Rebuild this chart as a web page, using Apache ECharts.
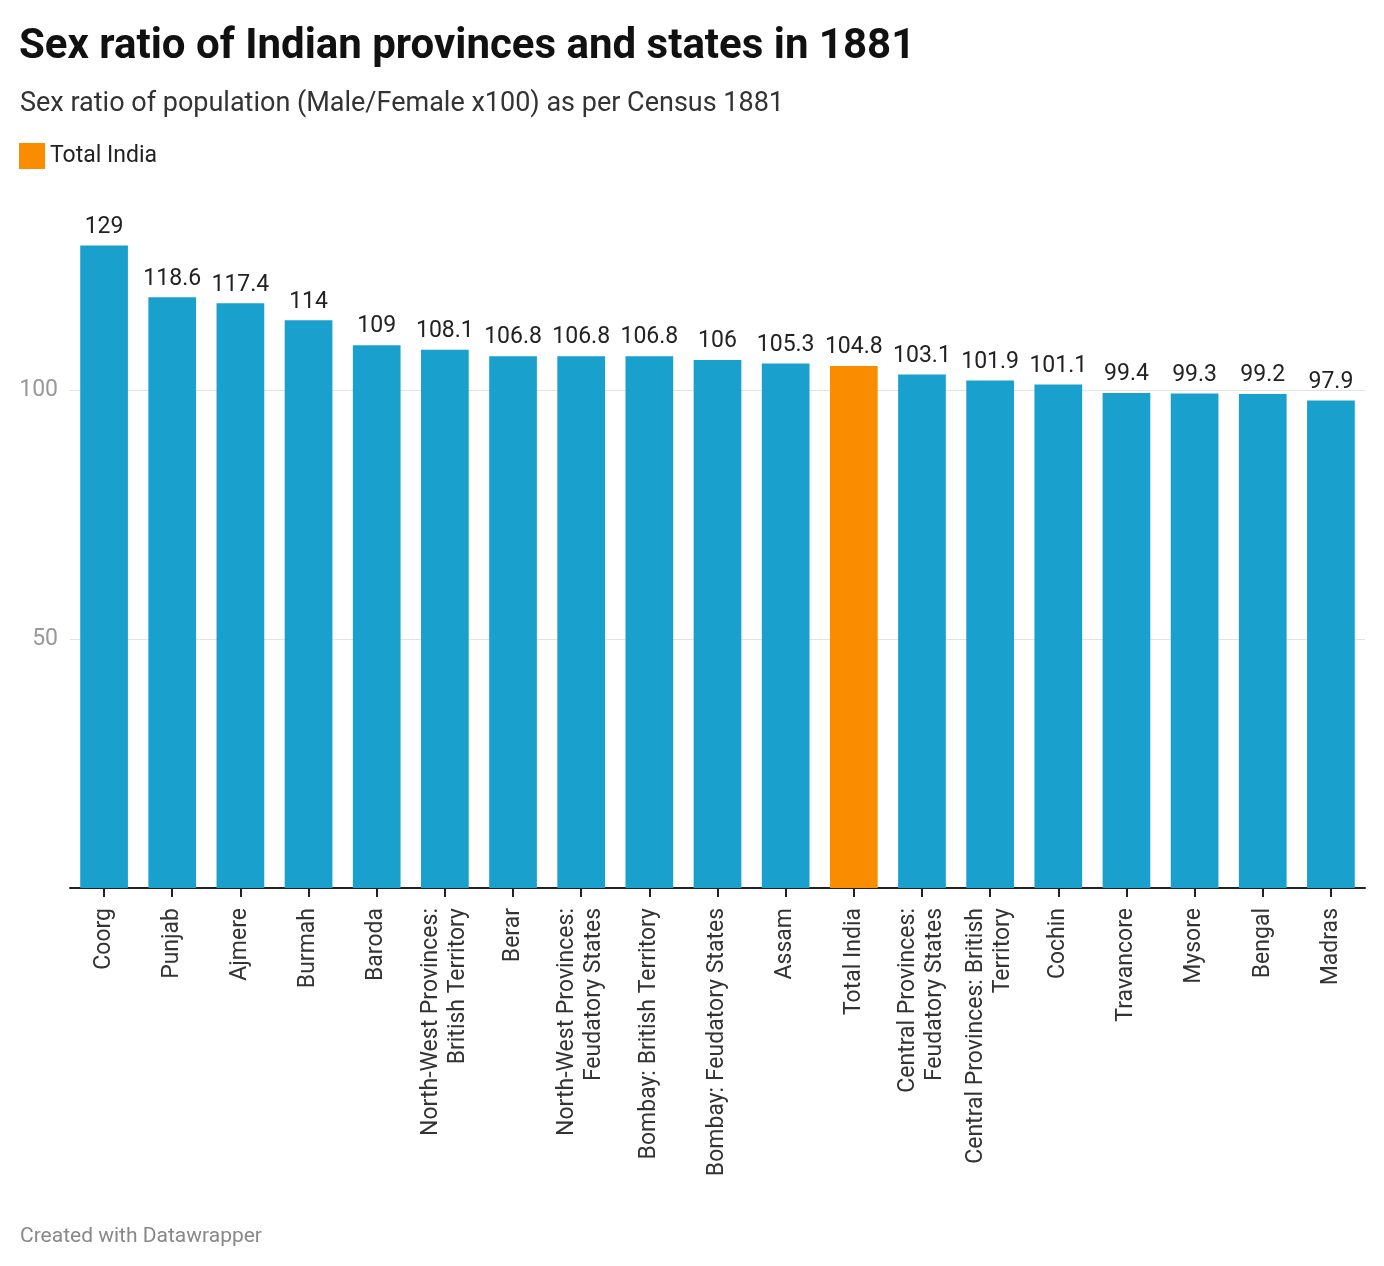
<!DOCTYPE html>
<html>
<head>
<meta charset="utf-8">
<script src="https://cdn.jsdelivr.net/npm/echarts@6/dist/echarts.min.js"></script>
<style>
  html, body { margin: 0; padding: 0; background: #fff; }
  #myChart { width: 1384px; height: 1266px; }
</style>
</head>
<body>
<div id="myChart"></div>
<script>
// provinces in the order shown
var categories = ['Coorg', 'Punjab', 'Ajmere', 'Burmah', 'Baroda',
    'North-West Provinces: British Territory', 'Berar',
    'North-West Provinces: Feudatory States', 'Bombay: British Territory',
    'Bombay: Feudatory States', 'Assam', 'Total India',
    'Central Provinces: Feudatory States', 'Central Provinces: British Territory',
    'Cochin', 'Travancore', 'Mysore', 'Bengal', 'Madras'];
var ratios = [129, 118.6, 117.4, 114, 109, 108.1, 106.8, 106.8, 106.8, 106, 105.3,
    104.8, 103.1, 101.9, 101.1, 99.4, 99.3, 99.2, 97.9];
var highlight = 'Total India';
var yTicks = [0, 50, 100];

// how the long labels wrap in the original
var wrapped = {
    'North-West Provinces: British Territory': 'North-West Provinces:\nBritish Territory',
    'North-West Provinces: Feudatory States': 'North-West Provinces:\nFeudatory States',
    'Central Provinces: Feudatory States': 'Central Provinces:\nFeudatory States',
    'Central Provinces: British Territory': 'Central Provinces: British\nTerritory'
};

var otherData = [];
var indiaData = [];
for (var i = 0; i < categories.length; i++) {
    if (categories[i] == highlight) {
        otherData.push('-');
        indiaData.push(ratios[i]);
    } else {
        otherData.push(ratios[i]);
        indiaData.push('-');
    }
}

var font = 'Roboto, "Noto Sans", sans-serif';
var valueLabel = {
    show: true,
    position: 'top',
    distance: 7,
    fontFamily: font,
    fontSize: 23,
    color: '#222'
};

var myChart = echarts.init(document.getElementById('myChart'));
var option = {
    backgroundColor: '#fff',
    animation: false,
    title: [
        {
            text: 'Sex ratio of Indian provinces and states in 1881',
            left: 19,
            top: 26,
            padding: 0,
            textStyle: { fontFamily: font, fontSize: 42, fontWeight: 'bold', color: '#111' }
        },
        {
            text: 'Sex ratio of population (Male/Female x100) as per Census 1881',
            left: 20,
            top: 91,
            padding: 0,
            textStyle: { fontFamily: font, fontSize: 27, fontWeight: 'normal', color: '#333' }
        },
        {
            text: 'Created with Datawrapper',
            left: 20,
            top: 1226,
            padding: 0,
            textStyle: { fontFamily: font, fontSize: 21, fontWeight: 'normal', color: '#888' }
        }
    ],
    legend: {
        data: [highlight],
        left: 19,
        top: 143,
        padding: 0,
        icon: 'rect',
        itemWidth: 26,
        itemHeight: 26,
        itemGap: 8,
        textStyle: { fontFamily: font, fontSize: 23, color: '#222' }
    },
    grid: {
        left: 70,
        right: 19,
        top: 240.6,
        bottom: 378,
        containLabel: false
    },
    xAxis: {
        type: 'category',
        data: categories,
        axisLine: { lineStyle: { color: '#222', width: 2 } },
        axisTick: { show: true, alignWithLabel: true, length: 9, lineStyle: { color: '#222', width: 2 } },
        axisLabel: {
            interval: 0,
            rotate: 90,
            margin: 20,
            fontFamily: font,
            fontSize: 23,
            lineHeight: 27,
            color: '#333',
            formatter: function (v) { return wrapped[v] || v; }
        }
    },
    yAxis: {
        type: 'value',
        min: yTicks[0],
        max: 130,
        interval: yTicks[1] - yTicks[0],
        axisLine: { show: false },
        axisTick: { show: false },
        axisLabel: {
            showMinLabel: false,
            showMaxLabel: false,
            margin: 12,
            fontFamily: font,
            fontSize: 23,
            color: '#999'
        },
        splitLine: {
            show: true,
            showMinLine: false,
            showMaxLine: false,
            lineStyle: { color: '#e3e3e3', width: 1 }
        }
    },
    series: [
        {
            name: 'Provinces',
            type: 'bar',
            data: otherData,
            barCategoryGap: '30%',
            barGap: '-100%',
            itemStyle: { color: '#1aa0cc' },
            label: valueLabel
        },
        {
            name: highlight,
            type: 'bar',
            data: indiaData,
            barCategoryGap: '30%',
            barGap: '-100%',
            itemStyle: { color: '#fa8c00' },
            label: valueLabel
        }
    ]
};
myChart.setOption(option);
</script>
</body>
</html>
